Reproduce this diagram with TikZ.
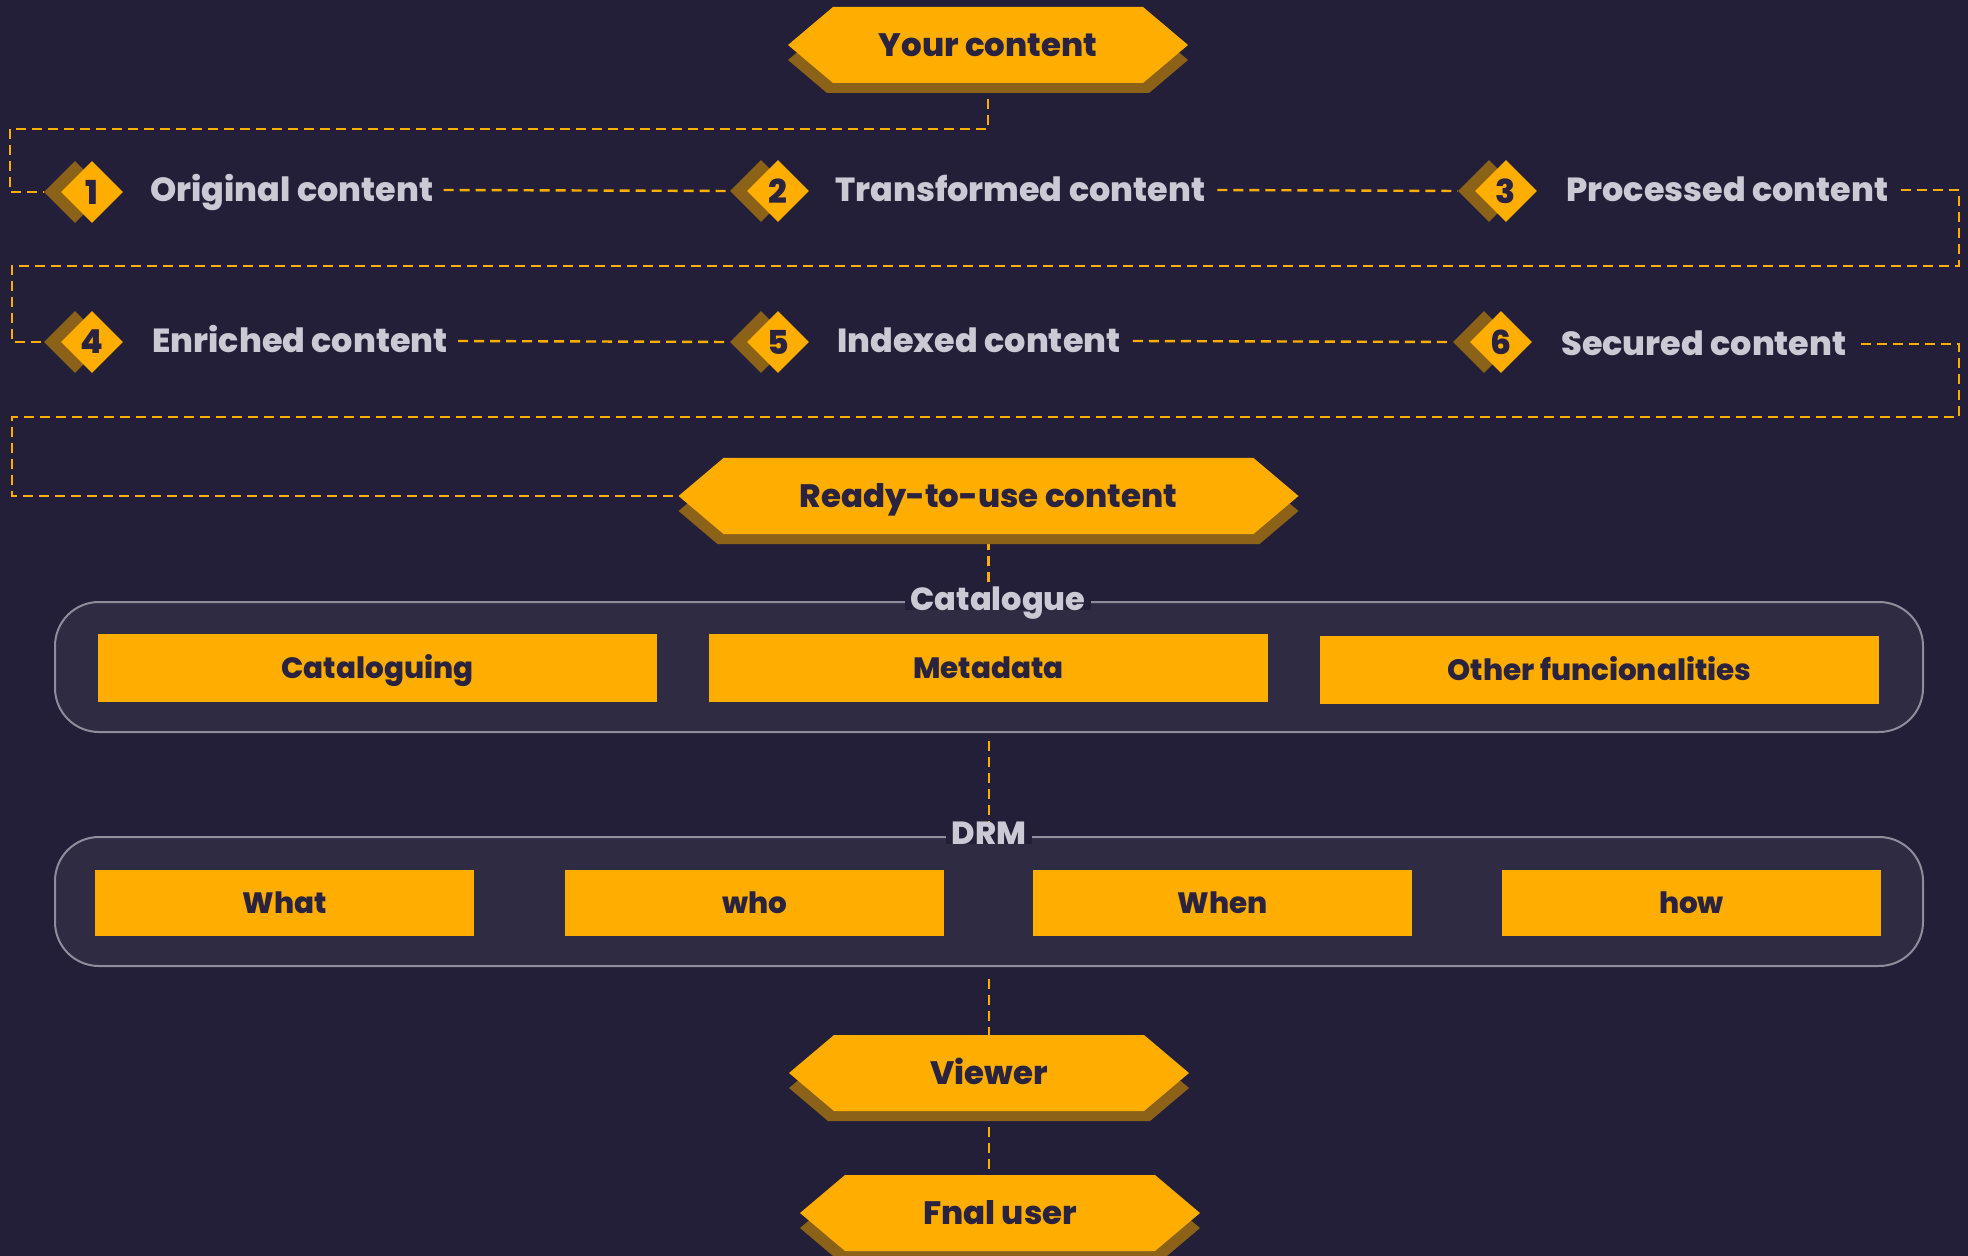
\documentclass[tikz,border=0pt]{standalone}
\usepackage{fontspec}
\setmainfont{Poppins}[BoldFont={Poppins ExtraBold}]
\usetikzlibrary{shapes.geometric,calc}
\definecolor{bgc}{HTML}{231F38}
\definecolor{panelc}{HTML}{2F2B43}
\definecolor{borderc}{HTML}{8F8C9C}
\definecolor{goldc}{HTML}{FFAE00}
\definecolor{shadec}{HTML}{8C6219}
\definecolor{darkc}{HTML}{29233F}
\definecolor{lightc}{HTML}{CBC9D3}
\pgfdeclarelayer{back}
\pgfdeclarelayer{bg}
\pgfsetlayers{back,bg,main}
\tikzset{
  dl/.style={draw=goldc, line width=1.2pt, dash pattern=on 5pt off 3pt},
  hextext/.style={inner sep=0pt, text=darkc, font=\bfseries\fontsize{16.2}{18}\selectfont, text height=11.3pt, text depth=0pt},
  lbl/.style={inner sep=0pt, anchor=west, text=lightc, font=\bfseries\fontsize{16.7}{19}\selectfont, text height=11.7pt, text depth=0pt},
  dmain/.style={diamond, aspect=1, fill=goldc, inner sep=0pt, minimum width=31pt, minimum height=31pt, text=darkc, font=\bfseries\fontsize{16.5}{17}\selectfont},
  dshade/.style={diamond, aspect=1, fill=shadec, inner sep=0pt, minimum width=31pt, minimum height=31pt},
  gbox/.style={draw=borderc, fill=panelc, line width=1pt, rounded corners=22pt, minimum width=934pt},
  grouplbl/.style={fill=bgc, inner xsep=3pt, inner ysep=0pt, text=lightc, font=\bfseries\fontsize{16}{18}\selectfont, text height=11.2pt, text depth=0pt},
  ybox/.style={fill=goldc, inner sep=0pt, text=darkc, font=\bfseries\fontsize{14.7}{17}\selectfont, text height=10.3pt, text depth=0pt},
}
\newcommand\hexnode[5]{%
  \fill[shadec] ({#2-#4},{#3+15}) -- ({#2-#4+45},{#3-23}) -- ({#2+#4-45},{#3-23}) -- ({#2+#4},{#3+15}) -- ({#2+#4-39},{#3+48}) -- ({#2-#4+39},{#3+48}) -- cycle;
  \fill[goldc] ({#2-#4},#3) -- ({#2-#4+45},{#3-38}) -- ({#2+#4-45},{#3-38}) -- ({#2+#4},#3) -- ({#2+#4-45},{#3+38}) -- ({#2-#4+45},{#3+38}) -- cycle;
  \node[hextext, minimum width=#4pt, minimum height=38pt] (#1) at (#2,#3) {#5};
}
\newcommand\diam[4]{%
  \node[dshade] (#1s) at ({#2-17},#3) {};
  \node[dmain] (#1) at (#2,#3) {#4};
}
\begin{document}
\begin{tikzpicture}[x=0.5pt, y=-0.5pt]
\begin{pgfonlayer}{back}
\fill[bgc] (0,0) rectangle (1968,1256);
\end{pgfonlayer}
\useasboundingbox (0,0) rectangle (1968,1256);

% hexagon nodes
\hexnode{yc}{988}{45}{200}{Your content}
\hexnode{ru}{988.5}{496}{310}{Ready-to-use content}
\hexnode{viewer}{989}{1073}{200}{Viewer}
\hexnode{fnal}{1000}{1213}{200}{Fnal user}

% steps
\diam{d1}{92}{192}{1}
\diam{d2}{778}{191}{2}
\diam{d3}{1506}{191}{3}
\diam{d4}{92}{342}{4}
\diam{d5}{778}{342}{5}
\diam{d6}{1501}{342}{6}
\node[lbl] (l1) at (150,190) {Original content};
\node[lbl] (l2) at (835,190) {Transformed content};
\node[lbl] (l3) at (1566,190) {Processed content};
\node[lbl] (l4) at (152,341) {Enriched content};
\node[lbl] (l5) at (837,341) {Indexed content};
\node[lbl] (l6) at (1561,344) {Secured content};

% catalogue group
\node[gbox, minimum height=65pt] (cat) at (989,667) {};
\node[grouplbl] (catl) at (998,599) {Catalogue};
\node[ybox, minimum width=279.5pt, minimum height=34pt] (b1) at (377.5,668) {Cataloguing};
\node[ybox, minimum width=279.5pt, minimum height=34pt] (b2) at (988.5,668) {Metadata};
\node[ybox, minimum width=279.5pt, minimum height=34pt] (b3) at (1599.5,670) {Other funcionalities};

% DRM group
\node[gbox, minimum height=64.5pt] (drm) at (989,901.5) {};
\node[grouplbl] (drml) at (989,833) {DRM};
\node[ybox, minimum width=189.5pt, minimum height=33pt] (w1) at (284.5,903) {What};
\node[ybox, minimum width=189.5pt, minimum height=33pt] (w2) at (754.5,903) {who};
\node[ybox, minimum width=189.5pt, minimum height=33pt] (w3) at (1222.5,903) {When};
\node[ybox, minimum width=189.5pt, minimum height=33pt] (w4) at (1691.5,903) {how};

% bend points
\coordinate (a1) at (10,129);
\coordinate (r1) at (1959,266);
\coordinate (a2) at (12,266);
\coordinate (r2) at (1959,417);
\coordinate (a3) at (12,417);

\begin{pgfonlayer}{bg}
\draw[dl] (yc.south) |- (a1) |- (d1s.west);
\draw[dl] ($(l1.east)+(10,0)$) -- (d2s.west);
\draw[dl] ($(l2.east)+(12,0)$) -- (d3s.west);
\draw[dl] ($(l3.east)+(12,0)$) -| (r1) -- (a2) |- (d4s.west);
\draw[dl] ($(l4.east)+(10,0)$) -- (d5s.west);
\draw[dl] ($(l5.east)+(12,0)$) -- (d6s.west);
\draw[dl] ($(l6.east)+(14,0)$) -| (r2) -- (a3) |- (ru.west);
\draw[dl, shorten <=3pt] (ru.south) -- (ru.south |- catl.north);
\draw[dl, shorten <=4pt] (cat.south) -- (drml.north);
\draw[dl, shorten <=6pt] (drm.south) -- (viewer.north);
\draw[dl] (viewer.south) -- (viewer.south |- fnal.north);
\end{pgfonlayer}
\end{tikzpicture}
\end{document}
